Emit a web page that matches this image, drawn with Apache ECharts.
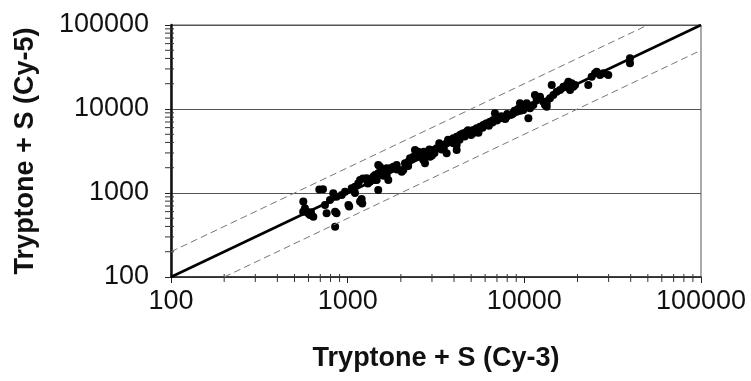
<!DOCTYPE html>
<html>
<head>
<meta charset="utf-8">
<script src="https://cdn.jsdelivr.net/npm/echarts@6/dist/echarts.min.js"></script>
<style>html,body{margin:0;padding:0;background:#fff;}#c{width:751px;height:381px;}</style>
</head>
<body>
<div id="c"></div>
<script>
// Axis settings
const axisMin = 100;
const axisMax = 100000;
const decades = [100, 1000, 10000];
const minorMultipliers = [2, 3, 4, 5, 6, 7, 8, 9];
const xTitle = 'Tryptone + S (Cy-3)';
const yTitle = 'Tryptone + S (Cy-5)';

// Scatter points: [Cy-3 intensity, Cy-5 intensity]
const points = [
  [560,600],[561,790],[573,658],[586,599],[612,547],[639,523],[600,570],[620,590],
  [691,1100],[725,1107],[744,720],[760,573],[794,826],[829,990],[849,599],[865,573],
  [849,397],[865,903],[925,946],[966,1037],[1010,720],[1020,690],[1054,1137],[1100,1189],
  [1148,1304],[1175,1428],[1175,790],[1200,846],[1210,750],[1220,1490],[1281,1496],
  [1337,1364],[1396,1564],[1428,1428],[1428,1638],[1460,1428],[1490,1086],[1490,1716],
  [1490,2154],[1524,2056],[1592,1794],[1627,1878],[1663,1638],[1663,1968],[1698,1428],
  [1738,1968],[1813,2056],[1895,2154],[2023,1794],[2065,1878],[2112,2256],[2205,2360],
  [2253,2588],[2354,2704],[2459,2970],[2405,3250],[2511,3104],[2570,2704],[2680,2470],
  [2740,2256],[2801,2970],[2924,3104],[2924,2704],[3054,3250],[3190,3404],[3333,3560],
  [3478,3725],[3633,3906],[3633,2970],[3795,4083],[3963,4480],[4140,4677],[4140,3250],
  [4324,4900],[4517,5140],[3795,4276],[3963,3906],[4140,3725],[4720,5370],[4924,5140],
  [5141,5623],[5370,5890],[5610,6165],[5860,6450],[6120,6750],[6390,7060],[6670,7390],
  [6820,8890],[7280,7745],[7600,7745],[7940,8100],[8300,8480],[8670,8890],[9060,9290],
  [9450,11690],[9660,10650],[9870,9730],[10090,11160],[10310,11690],[10770,10190],
  [11240,11160],[10540,7745],[11740,12800],[12270,14020],[12810,12220],[13390,11690],
  [13390,10650],[11480,14680],[12000,13400],[13090,11160],[13970,13400],[14590,14680],
  [14290,19300],[15240,16070],[15920,16830],[16630,18450],[17380,19300],[17750,21140],
  [18540,20230],[18930,18450],[18150,16830],[19370,19300],[23010,19300],[24050,24270],
  [25120,26600],[25680,27800],[26800,25410],[28000,26600],[29870,25410],[39630,40140],
  [39630,34990],
  [2300,2500],[2600,2900],[2900,3300],[3100,3000],[3300,3900],[3500,3400],[3700,4300],
  [4000,4100],[4300,4300],[4600,4700],[4800,5600],[5000,4900],[5200,5200],[5500,5600],
  [5800,6000],[6000,6600],[6300,6300],[6600,6900],[7000,7300],[7400,8200],[8000,8700],
  [8500,8600],[8800,9500],[9200,10000],[9500,9500],[3000,2800],[2700,3100],[2200,2100],
  [1900,1900],[1600,1600],[1300,1300],[1100,1000],[7800,7600],[5500,5200],[4400,5000],
  [3400,3300]
];

// Reference lines (y = x, y = 2x, y = x/2)
const identityLine = [[100,100],[100000,100000]];
const upperLine = [[100,200],[50000,100000]];
const lowerLine = [[200,100],[100000,50000]];

const minorTicks = [];
decades.forEach(d => minorMultipliers.forEach(m => minorTicks.push(d * m)));

const FONT = '"Liberation Sans", Arial, sans-serif';
const chart = echarts.init(document.getElementById('c'));

chart.setOption({
  animation: false,
  backgroundColor: '#fff',
  grid: { left: 171, right: 50, top: 25, bottom: 104, show: true, borderColor: '#555', borderWidth: 1 },
  xAxis: {
    type: 'log', logBase: 10, min: axisMin, max: axisMax,
    name: xTitle, nameLocation: 'middle', nameGap: 68,
    nameTextStyle: { fontFamily: FONT, fontSize: 27, fontWeight: 'bold', color: '#111' },
    axisLine: { lineStyle: { color: '#222', width: 1.5 } },
    axisTick: { show: true, inside: false, length: 6, lineStyle: { color: '#222' } },
    axisLabel: { fontFamily: FONT, fontSize: 27, color: '#111', margin: 11, formatter: v => String(v) },
    splitLine: { show: false }
  },
  yAxis: {
    type: 'log', logBase: 10, min: axisMin, max: axisMax,
    name: yTitle, nameLocation: 'middle', nameGap: 132, nameRotate: 90,
    nameTextStyle: { fontFamily: FONT, fontSize: 27, fontWeight: 'bold', color: '#111' },
    axisLine: { lineStyle: { color: '#111', width: 2.5 } },
    axisTick: { show: true, inside: false, length: 6, lineStyle: { color: '#222' } },
    axisLabel: { fontFamily: FONT, fontSize: 27, color: '#111', margin: 22, formatter: v => String(v) },
    splitLine: { show: true, lineStyle: { color: '#555', width: 1 } }
  },
  series: [
    {
      type: 'line', data: upperLine, symbol: 'none', silent: true,
      lineStyle: { color: '#777', width: 1, type: [7, 4] }
    },
    {
      type: 'line', data: lowerLine, symbol: 'none', silent: true,
      lineStyle: { color: '#777', width: 1, type: [7, 4] }
    },
    {
      type: 'line', data: identityLine, symbol: 'none', silent: true,
      lineStyle: { color: '#000', width: 2.5 }
    },
    {
      type: 'scatter', data: points, symbol: 'circle', symbolSize: 8,
      itemStyle: { color: '#000', opacity: 1 }
    },
    {
      type: 'custom', clip: false, silent: true,
      data: minorTicks.map(v => [v]),
      renderItem: function (params, api) {
        const v = api.value(0);
        const px = api.coord([v, axisMin]);
        const py = api.coord([axisMin, v]);
        return {
          type: 'group',
          children: [
            { type: 'line', shape: { x1: px[0], y1: px[1] - 3, x2: px[0], y2: px[1] + 5 }, style: { stroke: '#333', lineWidth: 1 } },
            { type: 'line', shape: { x1: py[0] - 6, y1: py[1], x2: py[0] + 3, y2: py[1] }, style: { stroke: '#333', lineWidth: 1 } }
          ]
        };
      }
    }
  ]
});
</script>
</body>
</html>
